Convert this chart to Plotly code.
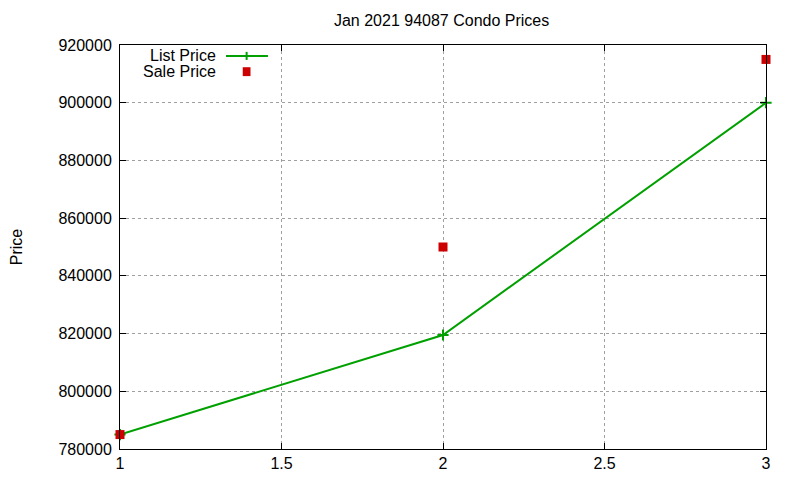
"""Jan 2021 94087 condo prices, gnuplot look."""

import plotly.graph_objects as go

FONT = "Liberation Sans, Arial, sans-serif"

sale_index = [1, 2, 3]
list_price = [785000, 819500, 900000]
sale_price = [785000, 850000, 915000]

x_ticks = [1, 1.5, 2, 2.5, 3]
x_tick_labels = ["1", "1.5", "2", "2.5", "3"]
y_ticks = [780000, 800000, 820000, 840000, 860000, 880000, 900000, 920000]

GREEN = "#00a000"
RED = "#cc0000"


def main():
    """Main driver."""
    fig = go.Figure()
    fig.add_trace(go.Scatter(
        x=sale_index, y=list_price, mode="lines+markers", name="List Price",
        line=dict(color=GREEN, width=2),
        marker=dict(symbol="cross-thin", size=8, line=dict(color=GREEN, width=2)),
        cliponaxis=False,
    ))
    fig.add_trace(go.Scatter(
        x=sale_index, y=sale_price, mode="markers", name="Sale Price",
        marker=dict(symbol="square", size=9, color=RED),
        cliponaxis=False,
    ))

    axis = dict(
        showline=True, linecolor="black", linewidth=1, mirror="ticks",
        ticks="inside", ticklen=6, tickcolor="black",
        showgrid=True, gridcolor="#a0a0a0", griddash="dot", gridwidth=1,
        zeroline=False, tickfont=dict(family=FONT, size=16, color="black"),
    )
    fig.update_xaxes(axis, range=[1, 3], tickvals=x_ticks, ticktext=x_tick_labels)
    fig.update_yaxes(axis, range=[780000, 920000], tickvals=y_ticks,
                     tickformat="d", ticklabelstandoff=4,
                     title=dict(text="Price", standoff=40,
                                font=dict(family=FONT, size=16, color="black")))

    # gnuplot style key: text on the left, sample on the right
    keys = [("List Price", 0.973), ("Sale Price", 0.934)]
    for text, ky in keys:
        fig.add_annotation(xref="paper", yref="paper", x=0.152, y=ky, text=text,
                           showarrow=False, xanchor="right", yanchor="middle",
                           font=dict(family=FONT, size=16, color="black"))
    fig.add_shape(type="line", xref="paper", yref="paper", x0=0.164, x1=0.229,
                  y0=0.973, y1=0.973, line=dict(color=GREEN, width=2))
    fig.add_shape(type="line", xref="paper", yref="paper", x0=0.196, x1=0.196,
                  y0=0.963, y1=0.983, line=dict(color=GREEN, width=2))
    fig.add_shape(type="rect", xref="paper", yref="paper", x0=0.190, x1=0.202,
                  y0=0.923, y1=0.945, line=dict(width=0), fillcolor=RED)

    fig.update_layout(
        width=800, height=480,
        margin=dict(l=112, r=42, t=37, b=39, autoexpand=False),
        plot_bgcolor="white", paper_bgcolor="white",
        showlegend=False,
        title=dict(text="Jan 2021 94087 Condo Prices", x=0.542, xanchor="center",
                   y=0.975, yanchor="middle",
                   font=dict(family=FONT, size=16, color="black")),
    )
    fig.write_html("out.html")


if __name__ == "__main__":
    main()
